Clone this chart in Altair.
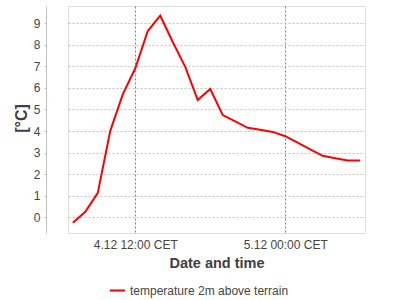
import altair as alt
import pandas as pd

times = [
    "2012-12-04T07:00:00Z", "2012-12-04T08:00:00Z", "2012-12-04T09:00:00Z",
    "2012-12-04T10:00:00Z", "2012-12-04T11:00:00Z", "2012-12-04T12:00:00Z",
    "2012-12-04T13:00:00Z", "2012-12-04T14:00:00Z", "2012-12-04T15:00:00Z",
    "2012-12-04T16:00:00Z", "2012-12-04T17:00:00Z", "2012-12-04T18:00:00Z",
    "2012-12-04T19:00:00Z", "2012-12-04T20:00:00Z", "2012-12-04T21:00:00Z",
    "2012-12-04T22:00:00Z", "2012-12-04T23:00:00Z", "2012-12-05T00:00:00Z",
    "2012-12-05T01:00:00Z", "2012-12-05T02:00:00Z", "2012-12-05T03:00:00Z",
    "2012-12-05T04:00:00Z", "2012-12-05T05:00:00Z", "2012-12-05T06:00:00Z",
]
temps = [
    -0.26, 0.25, 1.13, 4.01, 5.70, 6.91, 8.64, 9.35, 8.13, 6.98, 5.44, 5.95,
    4.74, 4.45, 4.15, 4.06, 3.96, 3.76, 3.46, 3.15, 2.85, 2.74, 2.63, 2.63,
]
series_name = "temperature 2m above terrain"
y_ticks = [0, 1, 2, 3, 4, 5, 6, 7, 8, 9]

df = pd.DataFrame({"time": times, "temp": temps, "series": series_name})

x_domain = [
    alt.DateTime(year=2012, month=12, date=4, hours=6, minutes=37, utc=True),
    alt.DateTime(year=2012, month=12, date=5, hours=6, minutes=23, utc=True),
]
x_ticks = [
    alt.DateTime(year=2012, month=12, date=4, hours=12, utc=True),
    alt.DateTime(year=2012, month=12, date=5, hours=0, utc=True),
]

font = "Liberation Sans"

chart = alt.Chart(df).mark_line(strokeWidth=2, clip=True).encode(
    x=alt.X(
        "time:T",
        scale=alt.Scale(type="utc", domain=x_domain, nice=False),
        axis=alt.Axis(
            title="Date and time",
            values=x_ticks,
            labelExpr="utcFormat(datum.value, '%-d.%m %H:%M') + ' CET'",
            domain=False,
            ticks=False,
            labelPadding=6,
            labelFont=font,
            labelFontSize=12,
            labelColor="#444444",
            labelFlush=False,
            labelOverlap=False,
            grid=True,
            gridColor="#808080",
            gridDash=[2, 2],
            gridWidth=1,
            titleFont=font,
            titleFontSize=14.5,
            titleFontWeight="bold",
            titleColor="#404040",
            titleBaseline="alphabetic",
            titleY=34,
        ),
    ),
    y=alt.Y(
        "temp:Q",
        scale=alt.Scale(domain=[-0.73, 9.8], nice=False, zero=False),
        axis=alt.Axis(
            title="[°C]",
            values=y_ticks,
            offset=22,
            domain=True,
            domainColor="#c0c0c0",
            ticks=True,
            tickSize=2,
            tickColor="#c0c0c0",
            labelPadding=4,
            labelFont=font,
            labelFontSize=12,
            labelColor="#444444",
            grid=True,
            gridColor="#c0c0c0",
            gridDash=[2, 2],
            gridWidth=1,
            titleFont=font,
            titleFontSize=16,
            titleFontWeight="bold",
            titleColor="#404040",
            titleAngle=270,
            titleAlign="center",
            titleBaseline="middle",
            titleX=-25,
            titleY=112,
        ),
    ),
    color=alt.Color(
        "series:N",
        scale=alt.Scale(range=["#ff0000"]),
        legend=alt.Legend(
            title=None,
            orient="none",
            legendX=41,
            legendY=276,
            symbolType="stroke",
            symbolStrokeWidth=2,
            symbolSize=225,
            labelFont=font,
            labelFontSize=12,
            labelColor="#444444",
            labelOffset=4,
            padding=0,
        ),
    ),
).properties(
    width=297,
    height=227,
    padding={"left": 68, "top": 6, "right": 35, "bottom": 67},
    autosize=alt.AutoSizeParams(type="none"),
).configure_view(
    stroke="#707070",
    strokeWidth=1,
).configure(background="white")

chart.save("out.html", embed_options={"renderer": "svg", "actions": False})
